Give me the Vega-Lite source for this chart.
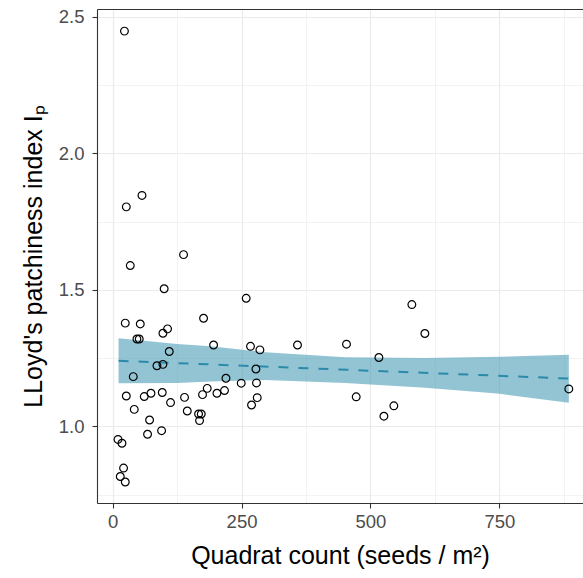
{
  "$schema": "https://vega.github.io/schema/vega-lite/v6.json",
  "width": 486,
  "height": 494,
  "autosize": {"type": "none"},
  "padding": {"left": 97, "top": 9, "right": 0, "bottom": 75},
  "background": "white",
  "config": {
    "view": {"stroke": null},
    "font": "Liberation Sans"
  },
  "resolve": {"axis": {"x": "independent"}},
  "datasets": {
    "points": [
      {"count": 23, "lp": 2.448}, {"count": 26.6, "lp": 1.804}, {"count": 57, "lp": 1.846},
      {"count": 137.6, "lp": 1.629}, {"count": 34.3, "lp": 1.589}, {"count": 100, "lp": 1.504},
      {"count": 259, "lp": 1.469}, {"count": 24.6, "lp": 1.378}, {"count": 53.7, "lp": 1.375},
      {"count": 176.4, "lp": 1.396}, {"count": 106.6, "lp": 1.357}, {"count": 97.6, "lp": 1.341},
      {"count": 47.2, "lp": 1.32}, {"count": 51.7, "lp": 1.32}, {"count": 195.8, "lp": 1.298},
      {"count": 267.4, "lp": 1.293}, {"count": 285.6, "lp": 1.28}, {"count": 358.5, "lp": 1.298},
      {"count": 453.5, "lp": 1.301}, {"count": 109.9, "lp": 1.274}, {"count": 86, "lp": 1.222},
      {"count": 97.6, "lp": 1.227}, {"count": 277.9, "lp": 1.21}, {"count": 40.1, "lp": 1.182},
      {"count": 219.8, "lp": 1.176}, {"count": 249.4, "lp": 1.158}, {"count": 279, "lp": 1.159},
      {"count": 26.6, "lp": 1.111}, {"count": 61.4, "lp": 1.109}, {"count": 74.4, "lp": 1.121},
      {"count": 96.3, "lp": 1.124}, {"count": 112.4, "lp": 1.087}, {"count": 139.5, "lp": 1.106},
      {"count": 174.4, "lp": 1.116}, {"count": 183.5, "lp": 1.139}, {"count": 202.3, "lp": 1.121},
      {"count": 217, "lp": 1.131}, {"count": 280.4, "lp": 1.105}, {"count": 269.4, "lp": 1.078},
      {"count": 42, "lp": 1.062}, {"count": 144.8, "lp": 1.056}, {"count": 166.7, "lp": 1.045},
      {"count": 171.9, "lp": 1.045}, {"count": 168.6, "lp": 1.021}, {"count": 71.7, "lp": 1.023},
      {"count": 67.8, "lp": 0.971}, {"count": 95, "lp": 0.984}, {"count": 10.5, "lp": 0.952},
      {"count": 18.2, "lp": 0.938}, {"count": 21.3, "lp": 0.847}, {"count": 14.9, "lp": 0.816},
      {"count": 24.6, "lp": 0.796}, {"count": 580.2, "lp": 1.446}, {"count": 605.4, "lp": 1.34},
      {"count": 516.3, "lp": 1.252}, {"count": 472.3, "lp": 1.108}, {"count": 545.3, "lp": 1.075},
      {"count": 526, "lp": 1.037}, {"count": 884.5, "lp": 1.137}
    ],
    "band": [
      {"count": 11.6, "lo": 1.158, "hi": 1.323},
      {"count": 125, "lo": 1.159, "hi": 1.302},
      {"count": 190, "lo": 1.164, "hi": 1.293},
      {"count": 296, "lo": 1.17, "hi": 1.271},
      {"count": 451, "lo": 1.159, "hi": 1.253},
      {"count": 606, "lo": 1.141, "hi": 1.25},
      {"count": 751, "lo": 1.119, "hi": 1.255},
      {"count": 884.5, "lo": 1.086, "hi": 1.262}
    ],
    "fit": [
      {"count": 11.6, "lp": 1.24},
      {"count": 884.5, "lp": 1.175}
    ]
  },
  "layer": [
    {
      "data": {"name": "band"},
      "mark": {"type": "area", "color": "#3a93ae", "opacity": 0.55},
      "encoding": {
        "x": {
          "field": "count", "type": "quantitative",
          "scale": {"domain": [-30.2, 912], "nice": false, "zero": false},
          "axis": {
            "values": [0, 125, 250, 375, 500, 625, 750, 875],
            "labelExpr": "datum.value % 250 === 0 ? datum.label : ''",
            "format": "d",
            "domain": true,
            "domainColor": "#333333",
            "domainWidth": 1.1,
            "tickColor": "#333333",
            "tickSize": 5,
            "tickWidth": 1.1,
            "tickOpacity": {"condition": {"test": "datum.value % 250 !== 0", "value": 0}, "value": 1},
            "gridColor": "#ebebeb",
            "gridWidth": {"condition": {"test": "datum.value % 250 !== 0", "value": 0.6}, "value": 1.2},
            "labelColor": "#4d4d4d",
            "labelFontSize": 18.5,
            "labelPadding": 4,
            "title": "Quadrat count (seeds / m²)",
            "titleFontSize": 25,
            "titleFontWeight": "normal",
            "titleColor": "#000000",
            "titlePadding": 13
          }
        },
        "y": {
          "field": "lo", "type": "quantitative",
          "scale": {"domain": [0.719, 2.529], "nice": false, "zero": false},
          "axis": {
            "values": [0.75, 1, 1.25, 1.5, 1.75, 2, 2.25, 2.5],
            "labelExpr": "(datum.value * 2) % 1 === 0 ? format(datum.value, '.1f') : ''",
            "domain": true,
            "domainColor": "#333333",
            "domainWidth": 1.1,
            "tickColor": "#333333",
            "tickSize": 5,
            "tickWidth": 1.1,
            "tickOpacity": {"condition": {"test": "(datum.value * 2) % 1 !== 0", "value": 0}, "value": 1},
            "gridColor": "#ebebeb",
            "gridWidth": {"condition": {"test": "(datum.value * 2) % 1 !== 0", "value": 0.6}, "value": 1.2},
            "labelColor": "#4d4d4d",
            "labelFontSize": 18.5,
            "labelPadding": 8,
            "title": "LLoyd's patchiness index Iₚ",
            "titleFontSize": 25,
            "titleFontWeight": "normal",
            "titleColor": "#000000",
            "titlePadding": 12
          }
        },
        "y2": {"field": "hi"}
      }
    },
    {
      "data": {"name": "fit"},
      "mark": {"type": "line", "color": "#2b8aa8", "strokeWidth": 2, "strokeDash": [10, 10]},
      "encoding": {
        "x": {
          "field": "count", "type": "quantitative",
          "axis": {"orient": "top", "labels": false, "ticks": false, "grid": false, "title": null, "domain": true, "domainColor": "#333333", "domainWidth": 1.1}
        },
        "y": {"field": "lp", "type": "quantitative"}
      }
    },
    {
      "data": {"name": "points"},
      "mark": {"type": "point", "shape": "circle", "filled": false, "color": "#000000", "strokeWidth": 1.2, "size": 60, "opacity": 1},
      "encoding": {
        "x": {"field": "count", "type": "quantitative", "axis": null},
        "y": {"field": "lp", "type": "quantitative"}
      }
    }
  ]
}
